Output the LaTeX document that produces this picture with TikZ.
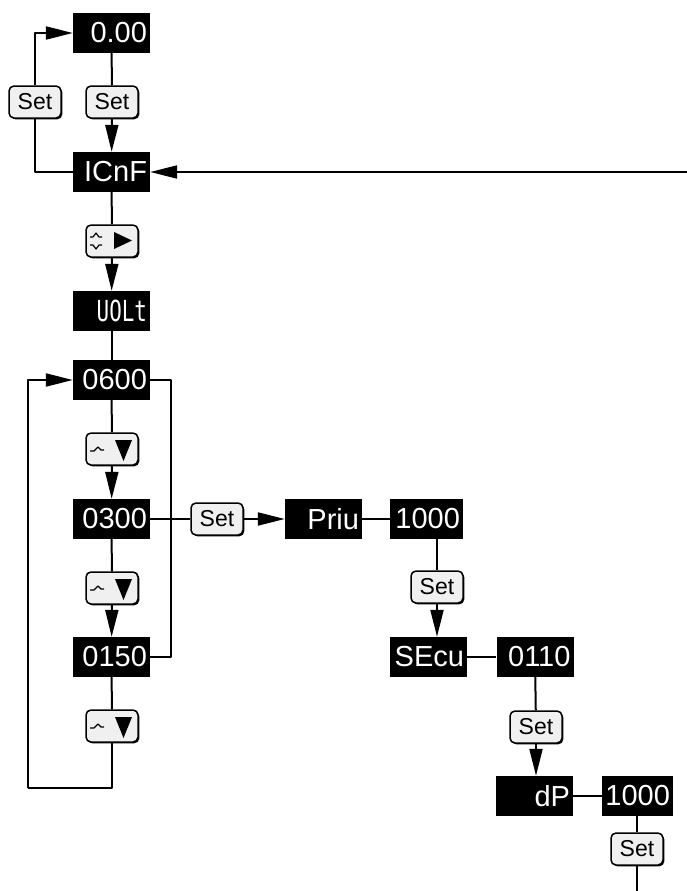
\documentclass[tikz,border=0pt]{standalone}
\usepackage{fontspec}
\setmainfont{Liberation Sans}
\newfontfamily\monofont[FakeStretch=0.72]{DejaVu Sans Mono}
\usetikzlibrary{arrows.meta,shadows}

% key glyphs drawn over the key nodes
\newcommand\downglyph[1]{%
  \begin{scope}[shift={(#1)}]
    \fill (3,-9) -- (20,-9) -- (11.5,12) -- cycle;
    \draw[glyph] (-22,2) -- (-18,2) -- (-14,-2) -- (-11,1) -- (-8,1);
  \end{scope}}
\newcommand\rightglyph[1]{%
  \begin{scope}[shift={(#1)}]
    \fill (2,-9) -- (2,8) -- (20,-0.5) -- cycle;
    \draw[glyph] (-22,-4) -- (-19,-4) -- (-16,-8) -- (-13,-4) -- (-10,-4);
    \draw[glyph] (-22,4) -- (-19,4) -- (-16,8) -- (-13,4) -- (-10,4);
  \end{scope}}

\begin{document}
\begin{tikzpicture}[x=1pt, y=-1pt, >={Triangle[length=27pt,width=13pt]}, line join=round,
  disp/.style={fill=black, text=white, text width=#1, align=right, inner xsep=3pt,
    inner ysep=0pt, minimum height=40pt, font=\fontsize{29}{29}\selectfont},
  disp/.default=71pt,
  key/.style={draw, line width=1.5pt, rounded corners=5pt, fill=gray!12,
    minimum width=52pt, minimum height=32pt, inner sep=0pt, font=\fontsize{23}{23}\selectfont,
    drop shadow={shadow xshift=1.3pt, shadow yshift=-1.3pt, fill=black, opacity=1}},
  wire/.style={line width=2pt},
  glyph/.style={line width=1.2pt}]
  \useasboundingbox (0,0) rectangle (687,891);

  % main column
  \node[disp] (zero) at (111.5,33) {0.00};
  \node[key] (set1) at (35,102) {Set};
  \node[key] (set2) at (112,102) {Set};
  \node[disp] (icnf) at (111.5,172) {ICnF};
  \node[key] (k1) at (112,241) {};
  \node[disp, font=\monofont\fontsize{29}{29}\selectfont] (uolt) at (111.5,311) {UOLt};
  \node[disp] (v600) at (111.5,380) {0600};
  \node[key] (k2) at (112,449) {};
  \node[disp] (v300) at (111.5,519) {0300};
  \node[key] (k3) at (112,588) {};
  \node[disp] (v150) at (111.5,657) {0150};
  \node[key] (k4) at (112,726) {};

  % branch
  \node[key] (set3) at (217,519) {Set};
  \node[disp] (priu) at (323.5,519) {Priu};
  \node[disp=67pt] (p1000) at (426.5,519) {1000};
  \node[key] (set4) at (437,587) {Set};
  \node[disp] (secu) at (428.5,657) {SEcu};
  \node[disp] (s0110) at (535,657) {0110};
  \node[key] (set5) at (536,727) {Set};
  \node[disp] (dp) at (534.5,796) {dP};
  \node[disp=65pt] (d1000) at (637.5,796) {1000};
  \node[key] (set6) at (637,849) {Set};

  \rightglyph{k1}
  \downglyph{k2}
  \downglyph{k3}
  \downglyph{k4}

  \coordinate (rin) at (687,172);
  \coordinate (lb) at (28,788);
  \coordinate (rl) at (171,519);
  \coordinate (bot) at (637,891);

  % connectors
  \draw[wire] (icnf.west) -| (set1);
  \draw[wire,->] (set1) |- (zero.west);
  \draw[wire] (zero) -- (set2);
  \draw[wire,->] (set2) -- (icnf);
  \draw[wire,->] (rin) -- (icnf);
  \draw[wire] (icnf) -- (k1);
  \draw[wire,->] (k1) -- (uolt);
  \draw[wire] (uolt) -- (v600);
  \draw[wire] (v600) -- (k2);
  \draw[wire,->] (k2) -- (v300);
  \draw[wire] (v300) -- (k3);
  \draw[wire,->] (k3) -- (v150);
  \draw[wire] (v150) -- (k4);
  \draw[wire] (k4) |- (lb);
  \draw[wire,->] (lb) |- (v600.west);
  \draw[wire] (v600.east) -| (rl) |- (v150.east);
  \draw[wire] (v300) -- (set3);
  \draw[wire,->] (set3) -- (priu);
  \draw[wire] (priu) -- (p1000);
  \draw[wire] (p1000.south -| set4) -- (set4);
  \draw[wire,->] (set4) -- (secu.north -| set4);
  \draw[wire] (secu) -- (s0110);
  \draw[wire] (s0110) -- (set5);
  \draw[wire,->] (set5) -- (dp.north -| set5);
  \draw[wire] (dp) -- (d1000);
  \draw[wire] (d1000.south -| set6) -- (set6);
  \draw[wire] (set6) -- (bot);
\end{tikzpicture}
\end{document}
